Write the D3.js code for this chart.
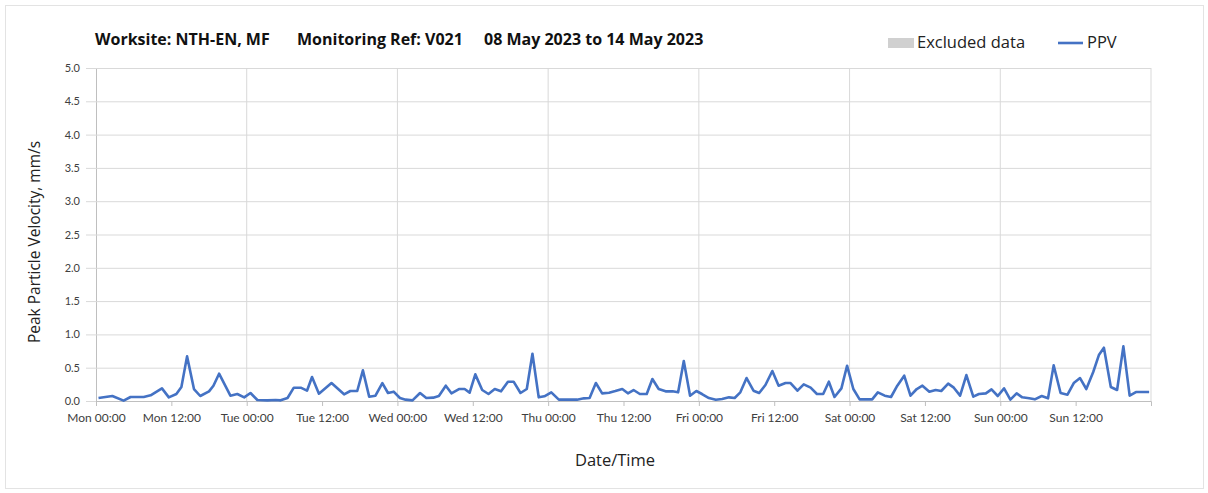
<!DOCTYPE html>
<html lang="en">
<head>
  <meta charset="UTF-8"/>
  <title>PPV chart</title>
  <script src="https://d3js.org/d3.v7.min.js"></script>
  <style>
    body { margin: 0; background: #fff; }
    text { font-family: Lato, "Open Sans", sans-serif; }
    .big { font-family: "Open Sans", Lato, sans-serif; }
  </style>
</head>
<body>
<svg id="chart"></svg>
<script>
// hours since Mon 08 May 2023 00:00
const hours = [0.4, 2.6, 4.4, 5.5, 7.6, 8.7, 10.5, 11.6, 12.8, 13.6, 14.5, 15.6, 16.6, 18.0, 18.7, 19.6,
  21.4, 22.5, 23.6, 24.6, 25.7, 27.3, 28.6, 29.4, 30.5, 31.5, 32.6, 33.6, 34.4, 35.5, 37.5, 39.5,
  40.5, 41.6, 42.5, 43.5, 44.5, 45.6, 46.5, 47.4, 48.4, 49.3, 50.4, 51.6, 52.6, 53.7, 54.6, 55.7,
  56.6, 57.8, 58.7, 59.5, 60.4, 61.5, 62.5, 63.5, 64.5, 65.6, 66.5, 67.6, 68.6, 69.5, 70.5, 71.4,
  72.5, 73.7, 76.6, 77.7, 78.6, 79.6, 80.6, 81.7, 82.7, 83.8, 84.7, 85.6, 86.6, 87.7, 88.6, 89.6,
  90.7, 91.8, 92.7, 93.6, 94.6, 95.6, 96.5, 97.6, 98.7, 99.7, 100.8, 101.7, 102.6, 103.6, 104.7, 105.6,
  106.6, 107.7, 108.7, 109.8, 110.6, 111.7, 112.7, 113.8, 114.8, 115.8, 116.7, 117.6, 118.7, 119.6, 120.6, 121.6,
  123.6, 124.5, 125.6, 126.6, 127.6, 128.7, 129.7, 130.7, 131.6, 132.7, 133.7, 134.6, 135.7, 136.6, 137.6, 138.6,
  139.7, 140.6, 141.7, 142.6, 143.6, 144.6, 145.6, 146.6, 147.5, 148.6, 149.5, 150.6, 151.6, 152.5, 153.6, 154.7,
  155.7, 156.7, 157.7, 158.8, 159.7, 160.5, 161.6, 162.6, 163.6, 164.6, 165.6, 167.7];
const ppv = [0.045, 0.075, 0.005, 0.06, 0.06, 0.085, 0.19, 0.055, 0.105, 0.21, 0.67, 0.18, 0.075, 0.145, 0.23, 0.41,
  0.08, 0.105, 0.055, 0.12, 0.015, 0.01, 0.015, 0.01, 0.045, 0.2, 0.2, 0.155, 0.36, 0.11, 0.27, 0.1,
  0.15, 0.15, 0.46, 0.065, 0.08, 0.27, 0.12, 0.14, 0.045, 0.02, 0.01, 0.12, 0.045, 0.05, 0.075, 0.23,
  0.115, 0.18, 0.18, 0.125, 0.40, 0.165, 0.105, 0.18, 0.145, 0.29, 0.29, 0.12, 0.18, 0.71, 0.055, 0.07,
  0.13, 0.02, 0.02, 0.04, 0.045, 0.27, 0.115, 0.125, 0.15, 0.18, 0.115, 0.165, 0.105, 0.105, 0.33, 0.18,
  0.145, 0.145, 0.13, 0.60, 0.08, 0.15, 0.105, 0.045, 0.02, 0.03, 0.055, 0.045, 0.13, 0.345, 0.155, 0.12,
  0.24, 0.45, 0.23, 0.27, 0.27, 0.155, 0.25, 0.20, 0.105, 0.105, 0.29, 0.06, 0.19, 0.53, 0.18, 0.025,
  0.025, 0.13, 0.08, 0.06, 0.23, 0.38, 0.08, 0.18, 0.23, 0.14, 0.165, 0.15, 0.26, 0.20, 0.08, 0.39,
  0.065, 0.105, 0.115, 0.175, 0.075, 0.19, 0.02, 0.115, 0.055, 0.04, 0.025, 0.075, 0.04, 0.535, 0.12, 0.095,
  0.27, 0.345, 0.18, 0.435, 0.69, 0.80, 0.21, 0.165, 0.82, 0.08, 0.135, 0.135];

const dayNames = ["Mon", "Tue", "Wed", "Thu", "Fri", "Sat", "Sun"];
const xTicks = d3.range(0, 168, 12);
const yTicks = d3.range(0, 5.01, 0.5);

const W = 1208, H = 493;
const plot = {left: 96, right: 1151, top: 68, bottom: 401};

const svg = d3.select("#chart").attr("width", W).attr("height", H);

svg.append("rect")
  .attr("x", 5.5).attr("y", 5.5)
  .attr("width", W - 10).attr("height", H - 10)
  .attr("fill", "#fff").attr("stroke", "#e3e3e3");

const x = d3.scaleLinear().domain([0, 168]).range([plot.left, plot.right]);
const y = d3.scaleLinear().domain([0, 5]).range([plot.bottom, plot.top]);

// horizontal grid + y ticks
svg.append("g")
  .attr("transform", `translate(${plot.left},0)`)
  .call(d3.axisLeft(y).tickValues(yTicks).tickSize(10).tickFormat(d3.format(".1f")))
  .call(g => g.select(".domain").attr("stroke", "#bfbfbf"))
  .call(g => g.selectAll(".tick line").attr("stroke", "#d9d9d9"))
  .call(g => g.selectAll(".tick").append("line")
      .attr("x2", plot.right - plot.left).attr("stroke", "#d9d9d9"))
  .call(g => g.selectAll(".tick text").attr("x", -16)
      .attr("fill", "#404040").style("font-size", "11px"));

// vertical grid at midnight
svg.append("g").selectAll("line")
  .data(d3.range(24, 169, 24))
  .join("line")
  .attr("x1", d => x(d)).attr("x2", d => x(d))
  .attr("y1", plot.top).attr("y2", plot.bottom)
  .attr("stroke", "#d9d9d9");

// x axis
svg.append("g")
  .attr("transform", `translate(0,${plot.bottom})`)
  .call(d3.axisBottom(x).tickValues(xTicks).tickSize(5)
      .tickFormat(d => dayNames[Math.floor(d / 24)] + (d % 24 === 0 ? " 00:00" : " 12:00")))
  .call(g => g.select(".domain").attr("stroke", "#bfbfbf"))
  .call(g => g.selectAll(".tick line").attr("stroke", "#bfbfbf"))
  .call(g => g.selectAll(".tick text").attr("y", 12)
      .attr("fill", "#404040").style("font-size", "12px"));

// PPV line
svg.append("path")
  .datum(hours.map((h, i) => [h, ppv[i]]))
  .attr("fill", "none")
  .attr("stroke", "#4472c4")
  .attr("stroke-width", 2.6)
  .attr("stroke-linejoin", "round")
  .attr("d", d3.line().x(d => x(d[0])).y(d => y(d[1])));

// title
const title = svg.append("text")
  .attr("class", "big")
  .attr("y", 45)
  .attr("fill", "#111")
  .style("font-size", "16px")
  .style("font-weight", "bold");
title.append("tspan").attr("x", 95).text("Worksite: NTH-EN, MF");
title.append("tspan").attr("x", 297).text("Monitoring Ref: V021");
title.append("tspan").attr("x", 484).text("08 May 2023 to 14 May 2023");

// legend
svg.append("rect")
  .attr("x", 888).attr("y", 38).attr("width", 26).attr("height", 10)
  .attr("fill", "#d0d0d0");
svg.append("text")
  .attr("class", "big")
  .attr("x", 917).attr("y", 48)
  .attr("fill", "#222").style("font-size", "16.5px")
  .text("Excluded data");
svg.append("line")
  .attr("x1", 1058).attr("x2", 1083).attr("y1", 43).attr("y2", 43)
  .attr("stroke", "#4472c4").attr("stroke-width", 2.6);
svg.append("text")
  .attr("class", "big")
  .attr("x", 1087).attr("y", 48)
  .attr("fill", "#222").style("font-size", "16.5px")
  .text("PPV");

// axis titles
svg.append("text")
  .attr("class", "big")
  .attr("transform", "translate(40,242) rotate(-90)")
  .attr("text-anchor", "middle")
  .attr("fill", "#222").style("font-size", "15.5px")
  .text("Peak Particle Velocity, mm/s");

svg.append("text")
  .attr("class", "big")
  .attr("x", 615).attr("y", 466)
  .attr("text-anchor", "middle")
  .attr("fill", "#222").style("font-size", "16.5px")
  .text("Date/Time");
</script>
</body>
</html>
